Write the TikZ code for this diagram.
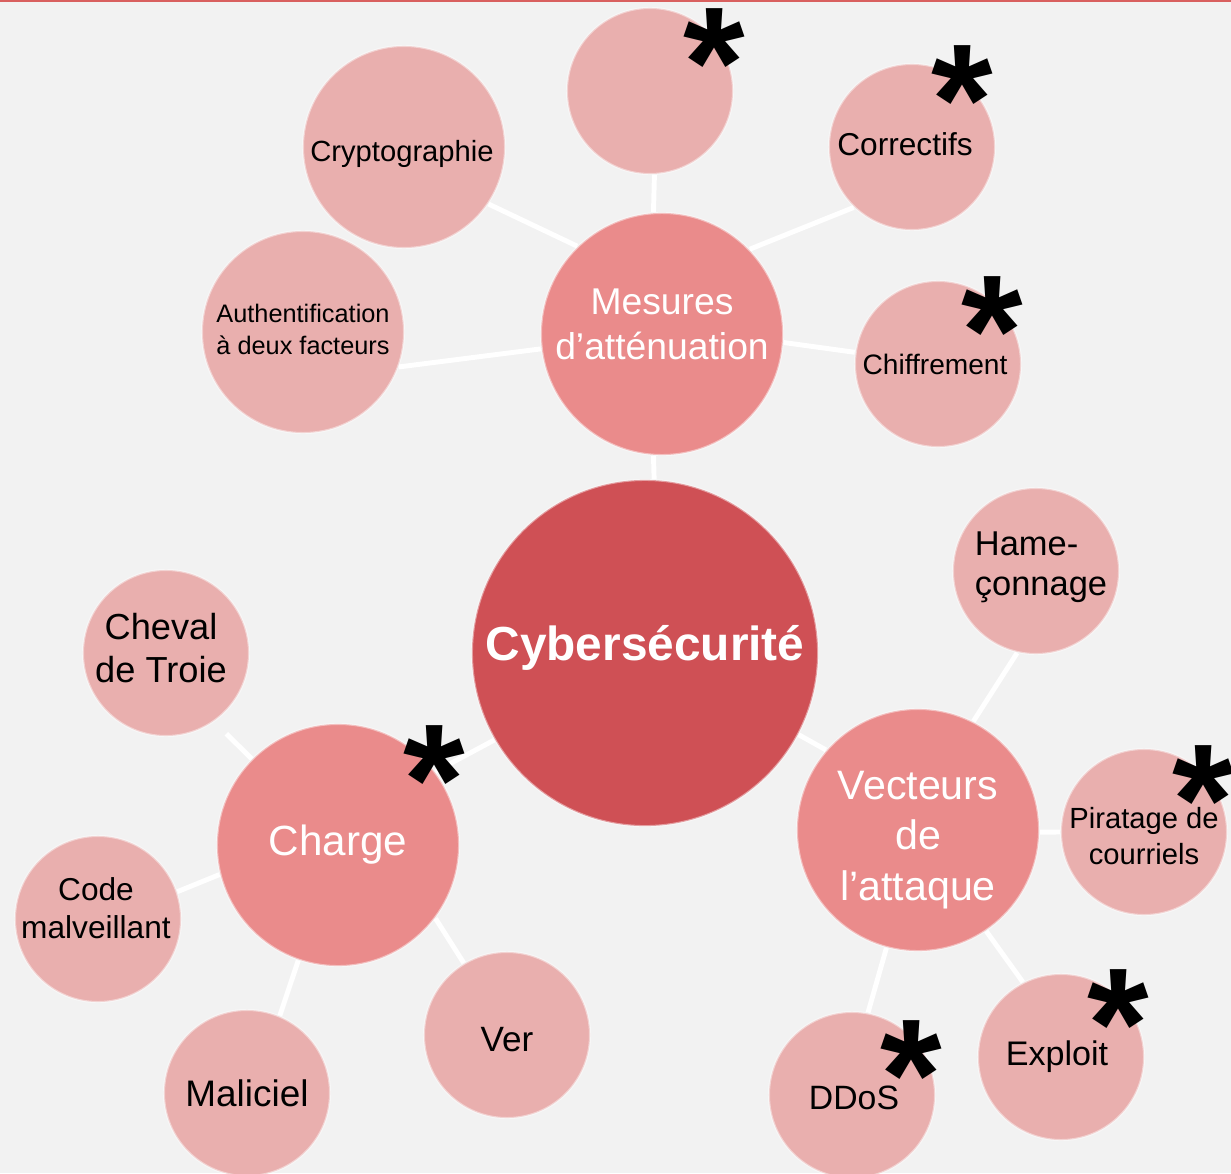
\documentclass[tikz,border=0pt]{standalone}
\usepackage{fontspec}
\setmainfont{Liberation Sans}
\usepackage{xcolor}
\usepackage{tikz}
\usetikzlibrary{backgrounds}

\definecolor{fondgris}{HTML}{F2F2F2}
\definecolor{rougecentre}{HTML}{CF5055}
\definecolor{rougemoyen}{HTML}{EA8B8B}
\definecolor{rosepale}{HTML}{E9AFAE}
\definecolor{filetrouge}{HTML}{D9605F}

\newcommand{\taille}[2]{\fontsize{#1}{#2}\selectfont}

\tikzset{
    rond/.style={circle, inner sep=0pt, draw=white, draw opacity=0.45, line width=0.6pt},
    centre/.style={rond, fill=rougecentre, minimum size=3.46cm},
    branche/.style={rond, fill=rougemoyen, minimum size=2.42cm},
    feuille/.style={rond, fill=rosepale, minimum size=1.66cm},
    texte/.style={inner sep=0pt, align=center, text=black},
    texteblanc/.style={texte, text=white},
    lien/.style={draw=white, line width=1.4pt},
    astmark/.style={anchor=base, inner sep=0pt, text=black, font=\taille{45}{45}\bfseries}
}

\begin{document}
\begin{tikzpicture}[x=0.01cm, y=-0.01cm]
    \useasboundingbox (0,0) rectangle (1231,1173);

    % cercles
    \node[centre] (cyber) at (645,653) {};
    \node[branche] (mesures) at (662,334) {};
    \node[branche] (charge) at (338,845) {};
    \node[branche] (vecteurs) at (918,830) {};
    \node[feuille] (vide) at (650,91) {};
    \node[feuille, minimum size=2.02cm] (crypto) at (404,147) {};
    \node[feuille, minimum size=2.02cm] (authent) at (303,332) {};
    \node[feuille] (correctifs) at (912,147) {};
    \node[feuille] (chiffrement) at (938,364) {};
    \node[feuille] (hamec) at (1036,571) {};
    \node[feuille] (piratage) at (1144,832) {};
    \node[feuille] (exploit) at (1061,1057) {};
    \node[feuille] (ddos) at (852,1095) {};
    \node[feuille] (cheval) at (166,653) {};
    \node[feuille] (code) at (98,919) {};
    \node[feuille] (maliciel) at (247,1093) {};
    \node[feuille] (ver) at (507,1035) {};

    % textes
    \node[texteblanc, font=\taille{13.6}{16}\bfseries] (cyber-t) at ([shift={(0,-5)}]cyber) {Cybersécurité};
    \node[texteblanc, font=\taille{10.6}{12.8}] (mesures-t) at ([shift={(0,-10)}]mesures) {Mesures\\d’atténuation};
    \node[texteblanc, font=\taille{12}{14}] (charge-t) at (charge) {Charge};
    \node[texteblanc, font=\taille{11.7}{14.4}] (vecteurs-t) at ([shift={(0,10)}]vecteurs) {Vecteurs\\de\\l’attaque};
    \node[texte, font=\taille{8.3}{10}] (crypto-t) at ([shift={(-2,7)}]crypto) {Cryptographie};
    \node[texte, font=\taille{7.2}{9.1}] (authent-t) at ([shift={(0,-3)}]authent) {Authentification\\à deux facteurs};
    \node[texte, font=\taille{9}{11}] (correctifs-t) at ([shift={(-7,-3)}]correctifs) {Correctifs};
    \node[texte, font=\taille{8}{10}] (chiffrement-t) at ([shift={(-3,0)}]chiffrement) {Chiffrement};
    \node[texte, align=left, font=\taille{9.8}{11.4}] (hamec-t) at ([shift={(5,-4)}]hamec) {Hame-\\çonnage};
    \node[texte, font=\taille{8.3}{10.2}] (piratage-t) at ([shift={(0,4)}]piratage) {Piratage de\\courriels};
    \node[texte, font=\taille{9.7}{12}] (exploit-t) at ([shift={(-4,0)}]exploit) {Exploit};
    \node[texte, font=\taille{9.6}{12}] (ddos-t) at ([shift={(2,3)}]ddos) {DDoS};
    \node[texte, font=\taille{10.3}{12.2}] (cheval-t) at ([shift={(-5,-5)}]cheval) {Cheval\\de Troie};
    \node[texte, font=\taille{9}{10.8}] (code-t) at ([shift={(-2,-11)}]code) {Code\\malveillant};
    \node[texte, font=\taille{10.5}{12}] (maliciel-t) at (maliciel) {Maliciel};
    \node[texte, font=\taille{10}{12}] (ver-t) at ([shift={(0,5)}]ver) {Ver};

    % asterisques
    \foreach \px/\py [count=\i] in {714/117, 962/155, 992/385, 434/834, 1203/854, 1118/1078, 911/1129}
        \node[astmark] (ast\i) at (\px,\py) {*};

    \begin{scope}[on background layer]
        \fill[fondgris] (0,0) rectangle (1231,1173);
        \fill[filetrouge] (0,0) rectangle (1231,2);
        \foreach \a/\b in {cyber.87/mesures.-94, cyber.-150/charge.37, cyber.-28/vecteurs.139,
                mesures.94/vide.-87, mesures.134/crypto.-34, mesures.-173/authent.-20,
                mesures.44/correctifs.-134, mesures.-4/chiffrement.172,
                vecteurs.63/hamec.-103, vecteurs.-1/piratage.180,
                vecteurs.-56/exploit.117, vecteurs.-105/ddos.79,
                charge.-166/code.19, charge.-109/maliciel.67, charge.-37/ver.121}
            \draw[lien] (\a) -- (\b);
        \draw[lien, shorten >=0.17cm] (charge.135) -- (cheval.-55);
    \end{scope}
\end{tikzpicture}
\end{document}
